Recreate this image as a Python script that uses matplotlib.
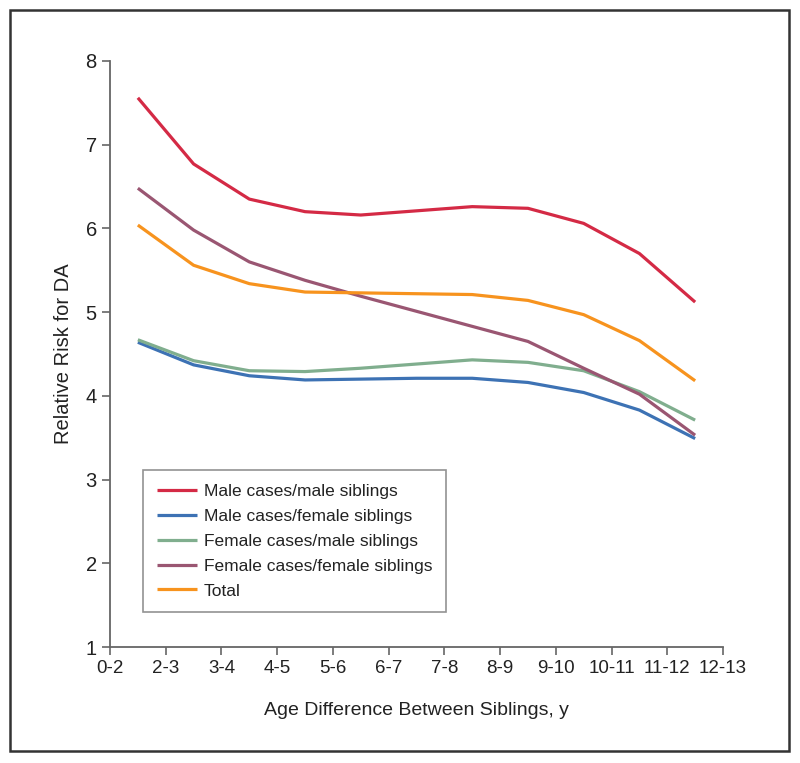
import matplotlib
matplotlib.use("Agg")
import matplotlib.pyplot as plt
from matplotlib.patches import Rectangle
import numpy as np

plt.rcParams['font.family'] = ['Liberation Sans', 'DejaVu Sans']

tick_labels = ['0-2', '2-3', '3-4', '4-5', '5-6', '6-7', '7-8', '8-9',
               '9-10', '10-11', '11-12', '12-13']

male_male = [7.56, 6.77, 6.35, 6.20, 6.16, 6.21, 6.26, 6.24, 6.06, 5.70, 5.12]
male_female = [4.64, 4.37, 4.24, 4.19, 4.20, 4.21, 4.21, 4.16, 4.04, 3.83, 3.49]
female_male = [4.67, 4.42, 4.30, 4.29, 4.33, 4.38, 4.43, 4.40, 4.30, 4.05, 3.71]
female_female = [6.48, 5.98, 5.60, 5.38, 5.19, 5.01, 4.83, 4.65, 4.33, 4.02, 3.53]
total = [6.04, 5.56, 5.34, 5.24, 5.23, 5.22, 5.21, 5.14, 4.97, 4.66, 4.18]

series = [
    ('Male cases/male siblings', male_male, '#d42a45'),
    ('Male cases/female siblings', male_female, '#3d72b4'),
    ('Female cases/male siblings', female_male, '#80ae8e'),
    ('Female cases/female siblings', female_female, '#9a5672'),
    ('Total', total, '#f7931e'),
]

fig = plt.figure(figsize=(8, 7.63), dpi=100)
ax = fig.add_axes([0.1375, 0.152, 0.76625, 0.7681])

x = np.arange(len(total)) + 0.5
for name, vals, col in series:
    ax.plot(x, vals, color=col, lw=2.3, label=name, solid_capstyle='butt')

ax.set_xlim(0, len(tick_labels) - 1)
ax.set_ylim(1, 8)
ax.set_xticks(np.arange(len(tick_labels)))
ax.set_xticklabels(tick_labels)
ax.set_yticks(range(1, 9))
ax.tick_params(labelsize=13.5, colors='#666666', labelcolor='#222222', length=6, width=1.2)
ax.tick_params(axis='y', labelsize=14.5)
for s in ['top', 'right']:
    ax.spines[s].set_visible(False)
for s in ['left', 'bottom']:
    ax.spines[s].set_color('#666666')
    ax.spines[s].set_linewidth(1.3)

ax.set_xlabel('Age Difference Between Siblings, y', fontsize=14, color='#222222', labelpad=18)
ax.set_ylabel('Relative Risk for DA', fontsize=14.5, color='#222222', labelpad=9)

leg = ax.legend(loc='upper left', bbox_to_anchor=(0.054, 0.302), borderaxespad=0,
                fontsize=12.5, frameon=True, fancybox=False, handlelength=2.3,
                handletextpad=0.4, labelspacing=0.56, borderpad=0.8)
leg.get_frame().set_edgecolor('#777777')
leg.get_frame().set_linewidth(1.2)
for t in leg.get_texts():
    t.set_color('#222222')

fig.patches.append(Rectangle((0.0125, 0.0157), 0.974, 0.971, transform=fig.transFigure,
                             fill=False, edgecolor='#333333', lw=1.8))

fig.savefig('out.png', dpi=100)
